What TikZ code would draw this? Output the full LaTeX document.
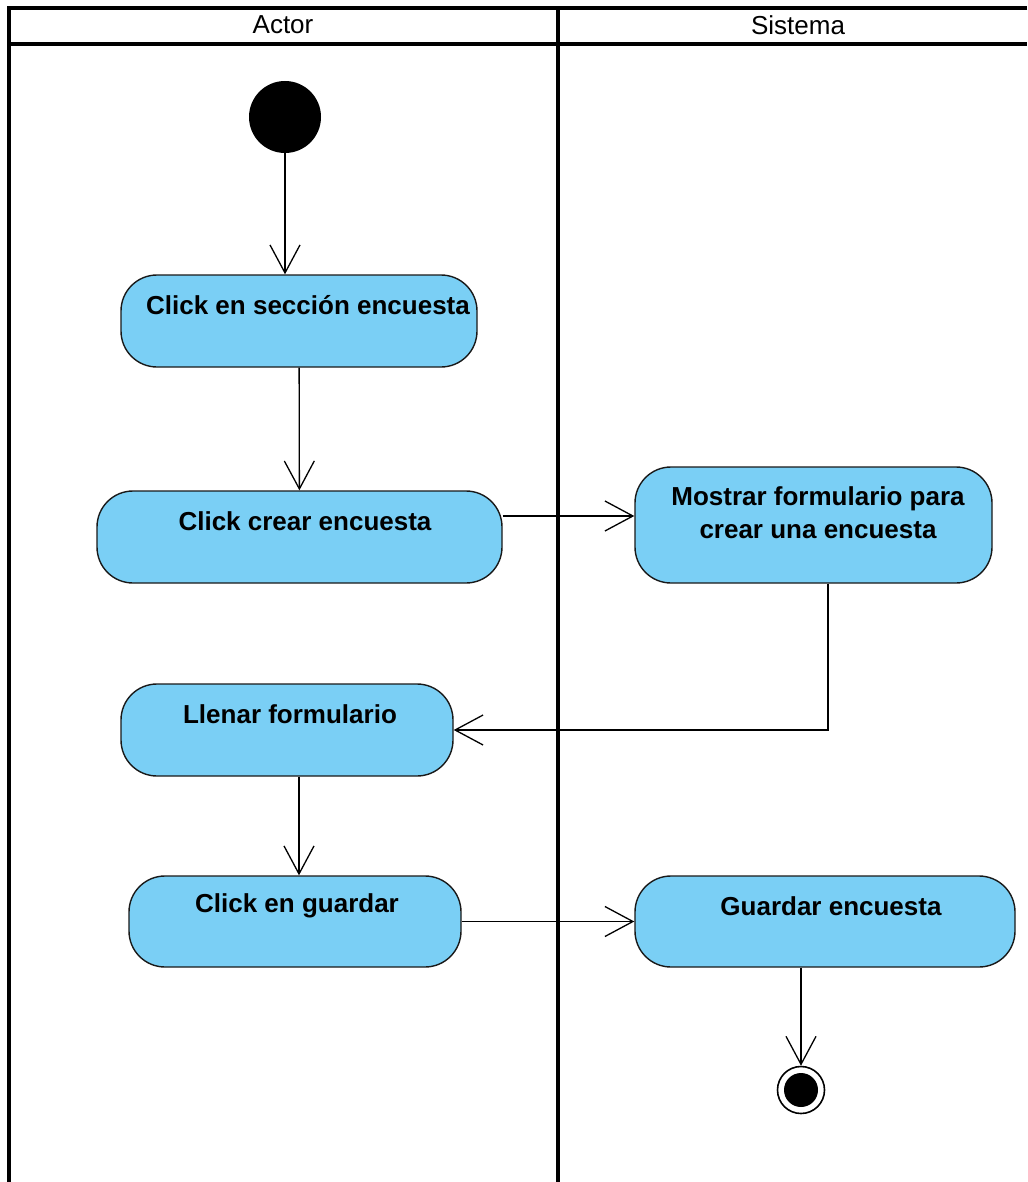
\documentclass[tikz,border=0pt]{standalone}
\usepackage{fontspec}
\setmainfont{Liberation Sans}
\usetikzlibrary{arrows.meta,calc}
\definecolor{actfill}{RGB}{122,207,245}
\definecolor{actline}{RGB}{25,25,25}
\begin{document}
\begin{tikzpicture}[x=1pt,y=-1pt,
  lane/.style={line width=3.5pt,black},
  lanetitle/.style={font=\fontsize{26}{28}\selectfont},
  activity/.style={draw=actline,line width=1.4pt,fill=actfill,rounded corners=36pt,
    inner sep=0pt},
  acttext/.style={font=\bfseries\fontsize{26}{33}\selectfont,align=center,anchor=center},
  flow/.style={line width=1.3pt,-{Straight Barb[length=28pt,width=30pt,line width=1.3pt]}},
]
\useasboundingbox (0,0) rectangle (1027,1182);

% swimlane frame
\draw[lane] (1027,8) -- (9,8) -- (9,1182);
\draw[lane] (9,44) -- (1027,44);
\draw[lane] (558,8) -- (558,1182);
\node[lanetitle] (hactor) at (283,25) {Actor};
\node[lanetitle] (hsys) at (798,25) {Sistema};

% initial node
\node[circle,fill=black,minimum size=72pt,inner sep=0pt] (start) at (285,117) {};

% activities
\node[activity,minimum width=356pt,minimum height=92pt] (a1) at (299,321) {};
\node[acttext] (t1) at (308,305) {Click en sección encuesta};

\node[activity,minimum width=405pt,minimum height=92pt] (a2) at (299.5,537) {};
\node[acttext] (t2) at (305,521) {Click crear encuesta};

\node[activity,minimum width=357pt,minimum height=116pt] (a3) at (813.5,525) {};
\node[acttext] (t3) at (818,513) {Mostrar formulario para\\crear una encuesta};

\node[activity,minimum width=332pt,minimum height=92pt] (a4) at (287,730) {};
\node[acttext] (t4) at (290,714) {Llenar formulario};

\node[activity,minimum width=332pt,minimum height=91pt] (a5) at (295,921.5) {};
\node[acttext] (t5) at (297,906) {Click en guardar};

\node[activity,minimum width=380pt,minimum height=91pt] (a6) at (825,921.5) {};
\node[acttext] (t6) at (831,906) {Guardar encuesta};

% final node
\node[circle,draw=black,line width=1.6pt,fill=white,minimum size=47pt,inner sep=0pt,
  path picture={\fill[black] (path picture bounding box.center) circle (17pt);}]
  (final) at (801,1090) {};

% control flows
\draw[flow] (start) -- (start |- a1.north);
\draw[flow] (a1) -- (a2);
\draw[flow] ([yshift=21pt]a2.east) -- ([yshift=21pt]a2.east -| a3.west);
\draw[flow] ([xshift=14.5pt]a3.south) |- (a4.east);
\draw[flow] ([xshift=12pt]a4.south) -- ([xshift=4pt]a5.north);
\draw[flow] (a5.east) -- (a6.west);
\draw[flow] (a6.south -| final) -- (final.north);
\end{tikzpicture}
\end{document}
